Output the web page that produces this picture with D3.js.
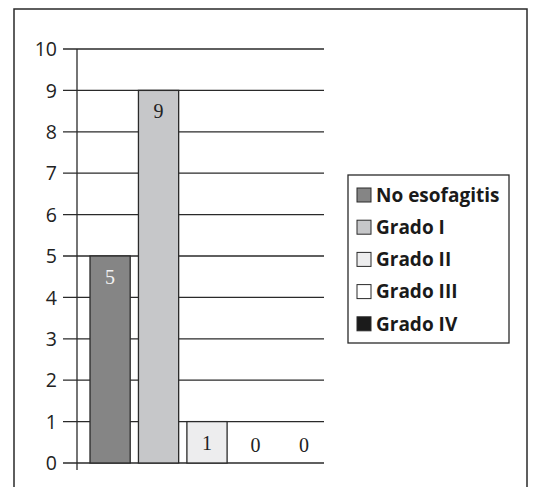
<!DOCTYPE html>
<html>
<head>
<meta charset="utf-8">
<script src="https://cdn.jsdelivr.net/npm/d3@7"></script>
<style>
  html, body { margin: 0; padding: 0; background: #fff; }
  svg { display: block; }
</style>
</head>
<body>
<svg id="chart" width="544" height="487"></svg>
<script>
// Esophagitis grade counts
const categories = ["No esofagitis", "Grado I", "Grado II", "Grado III", "Grado IV"];
const counts = [5, 9, 1, 0, 0];
const fills = ["#858585", "#c6c7c9", "#ededee", "#ffffff", "#1b1b1b"];
const yTicks = [0, 1, 2, 3, 4, 5, 6, 7, 8, 9, 10];

const svg = d3.select("#chart");
const ink = "#2a2a2a";

// outer frame (open at the bottom edge of the page)
svg.append("rect")
  .attr("x", 14).attr("y", 9)
  .attr("width", 513).attr("height", 500)
  .attr("fill", "none").attr("stroke", ink).attr("stroke-width", 1.5);

const plot = { left: 77, right: 324, top: 49, bottom: 463 };

const y = d3.scaleLinear().domain([0, 10]).range([plot.bottom, plot.top]);
const x = d3.scaleBand()
  .domain(categories)
  .range([90, 324])
  .paddingInner(0.17)
  .paddingOuter(0);

// horizontal gridlines with left tick stubs
svg.append("g")
  .selectAll("line")
  .data(yTicks)
  .join("line")
  .attr("x1", 63).attr("x2", plot.right)
  .attr("y1", d => y(d)).attr("y2", d => y(d))
  .attr("stroke", ink).attr("stroke-width", 1.3);

// y axis labels
const axis = d3.axisLeft(y).tickValues(yTicks).tickSize(0).tickPadding(0);
const ag = svg.append("g").attr("transform", "translate(57,0)").call(axis);
ag.select(".domain").remove();
ag.selectAll("text")
  .attr("font-family", "'Open Sans', sans-serif")
  .attr("font-size", 19.5)
  .attr("fill", "#222")
  .attr("dy", "0.34em");

// bars
svg.append("g")
  .selectAll("rect")
  .data(categories)
  .join("rect")
  .attr("x", d => x(d))
  .attr("width", x.bandwidth())
  .attr("y", (d, i) => y(counts[i]))
  .attr("height", (d, i) => y(0) - y(counts[i]))
  .attr("fill", (d, i) => fills[i])
  .attr("stroke", ink)
  .attr("stroke-width", 1.3)
  .attr("display", (d, i) => counts[i] > 0 ? null : "none");

// vertical axis line
svg.append("line")
  .attr("x1", plot.left).attr("x2", plot.left)
  .attr("y1", plot.top).attr("y2", plot.bottom + 7)
  .attr("stroke", ink).attr("stroke-width", 1.3);

// value labels
svg.append("g")
  .selectAll("text")
  .data(categories)
  .join("text")
  .attr("x", d => x(d) + x.bandwidth() / 2)
  .attr("y", (d, i) => Math.min(y(counts[i]) + 28, y(0) - 11))
  .attr("text-anchor", "middle")
  .attr("font-family", "'Liberation Serif', serif")
  .attr("font-size", 20)
  .attr("fill", (d, i) => i === 0 ? "#f2f2f2" : "#222")
  .text((d, i) => counts[i]);

// legend
const lg = svg.append("g").attr("transform", "translate(348,175)");
lg.append("rect")
  .attr("width", 161).attr("height", 168)
  .attr("fill", "#fff").attr("stroke", ink).attr("stroke-width", 1.3);
const rows = lg.selectAll("g.row")
  .data(categories)
  .join("g")
  .attr("class", "row")
  .attr("transform", (d, i) => `translate(0,${20 + i * 32.2})`);
rows.append("rect")
  .attr("x", 9).attr("y", -7)
  .attr("width", 14).attr("height", 14)
  .attr("fill", (d, i) => fills[i])
  .attr("stroke", ink).attr("stroke-width", 1);
rows.append("text")
  .attr("x", 28).attr("y", 0)
  .attr("dy", "0.36em")
  .attr("font-family", "'Open Sans', sans-serif")
  .attr("font-weight", "bold")
  .attr("font-size", 19)
  .attr("fill", "#1a1a1a")
  .text(d => d);
</script>
</body>
</html>
